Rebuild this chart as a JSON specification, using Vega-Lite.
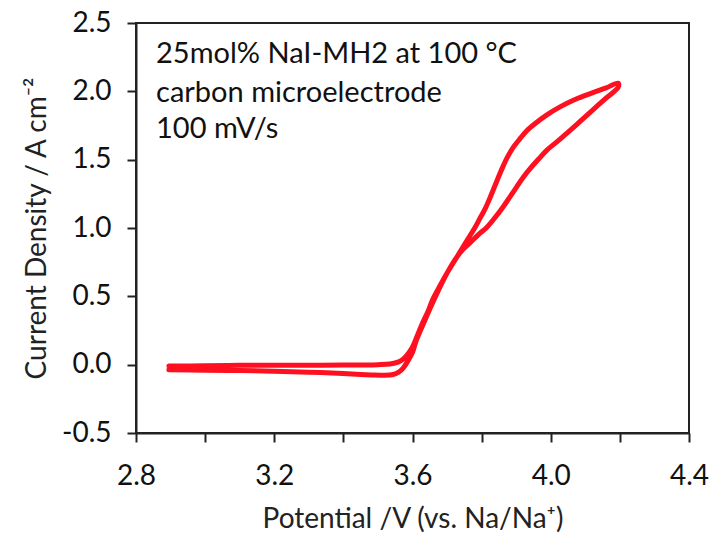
{
  "$schema": "https://vega.github.io/schema/vega-lite/v6.json",
  "width": 553,
  "height": 410,
  "autosize": {"type": "none"},
  "padding": {"left": 136, "top": 23, "right": 22, "bottom": 102},
  "background": "white",
  "config": {
    "font": "Lato",
    "view": {"stroke": "#222", "strokeWidth": 2},
    "axis": {
      "domainColor": "#222", "domainWidth": 2, "tickColor": "#222", "tickWidth": 2, "tickSize": 9,
      "labelFont": "Lato", "labelFontSize": 28, "labelColor": "#111", "labelPadding": 16,
      "titleFont": "Lato", "titleFontSize": 28, "titleFontWeight": "normal", "titleColor": "#222",
      "grid": false, "labelFlush": false, "labelOverlap": false
    }
  },
  "datasets": {
    "cv": [
      {"i": 1, "v": 2.895, "j": -0.01},
      {"i": 2, "v": 3.0, "j": -0.008},
      {"i": 3, "v": 3.1, "j": -0.005},
      {"i": 4, "v": 3.2, "j": -0.005},
      {"i": 5, "v": 3.3, "j": -0.004},
      {"i": 6, "v": 3.4, "j": -0.003},
      {"i": 7, "v": 3.45, "j": -0.002},
      {"i": 8, "v": 3.5, "j": 0.0},
      {"i": 9, "v": 3.535, "j": 0.005},
      {"i": 10, "v": 3.56, "j": 0.02},
      {"i": 11, "v": 3.573, "j": 0.04},
      {"i": 12, "v": 3.59, "j": 0.09},
      {"i": 13, "v": 3.602, "j": 0.14},
      {"i": 14, "v": 3.615, "j": 0.22},
      {"i": 15, "v": 3.63, "j": 0.31},
      {"i": 16, "v": 3.645, "j": 0.39},
      {"i": 17, "v": 3.659, "j": 0.48},
      {"i": 18, "v": 3.68, "j": 0.58},
      {"i": 19, "v": 3.7, "j": 0.67},
      {"i": 20, "v": 3.729, "j": 0.79},
      {"i": 21, "v": 3.758, "j": 0.91},
      {"i": 22, "v": 3.78, "j": 1.0},
      {"i": 23, "v": 3.795, "j": 1.07},
      {"i": 24, "v": 3.81, "j": 1.14},
      {"i": 25, "v": 3.824, "j": 1.22},
      {"i": 26, "v": 3.845, "j": 1.35},
      {"i": 27, "v": 3.86, "j": 1.44},
      {"i": 28, "v": 3.875, "j": 1.52},
      {"i": 29, "v": 3.89, "j": 1.585},
      {"i": 30, "v": 3.91, "j": 1.65},
      {"i": 31, "v": 3.93, "j": 1.71},
      {"i": 32, "v": 3.955, "j": 1.765},
      {"i": 33, "v": 3.99, "j": 1.83},
      {"i": 34, "v": 4.027, "j": 1.886},
      {"i": 35, "v": 4.07, "j": 1.94},
      {"i": 36, "v": 4.122, "j": 1.99},
      {"i": 37, "v": 4.16, "j": 2.025},
      {"i": 38, "v": 4.195, "j": 2.06},
      {"i": 39, "v": 4.195, "j": 2.03},
      {"i": 40, "v": 4.16, "j": 1.95},
      {"i": 41, "v": 4.122, "j": 1.865},
      {"i": 42, "v": 4.085, "j": 1.78},
      {"i": 43, "v": 4.047, "j": 1.695},
      {"i": 44, "v": 4.02, "j": 1.635},
      {"i": 45, "v": 3.989, "j": 1.57},
      {"i": 46, "v": 3.965, "j": 1.505},
      {"i": 47, "v": 3.942, "j": 1.44},
      {"i": 48, "v": 3.92, "j": 1.37},
      {"i": 49, "v": 3.9, "j": 1.295},
      {"i": 50, "v": 3.88, "j": 1.22},
      {"i": 51, "v": 3.862, "j": 1.154},
      {"i": 52, "v": 3.84, "j": 1.08},
      {"i": 53, "v": 3.816, "j": 1.008},
      {"i": 54, "v": 3.79, "j": 0.95},
      {"i": 55, "v": 3.766, "j": 0.89},
      {"i": 56, "v": 3.745, "j": 0.84},
      {"i": 57, "v": 3.729, "j": 0.79},
      {"i": 58, "v": 3.7, "j": 0.67},
      {"i": 59, "v": 3.665, "j": 0.49},
      {"i": 60, "v": 3.635, "j": 0.32},
      {"i": 61, "v": 3.61, "j": 0.17},
      {"i": 62, "v": 3.6, "j": 0.09},
      {"i": 63, "v": 3.585, "j": 0.02},
      {"i": 64, "v": 3.573, "j": -0.025},
      {"i": 65, "v": 3.56, "j": -0.055},
      {"i": 66, "v": 3.544, "j": -0.072},
      {"i": 67, "v": 3.52, "j": -0.078},
      {"i": 68, "v": 3.48, "j": -0.075},
      {"i": 69, "v": 3.45, "j": -0.072},
      {"i": 70, "v": 3.4, "j": -0.065},
      {"i": 71, "v": 3.3, "j": -0.055},
      {"i": 72, "v": 3.2, "j": -0.048},
      {"i": 73, "v": 3.1, "j": -0.043},
      {"i": 74, "v": 3.0, "j": -0.04},
      {"i": 75, "v": 2.895, "j": -0.038}
    ],
    "notes": [
      {"v": 2.858, "j": 2.207, "t": "25mol% NaI-MH2 at 100 °C"},
      {"v": 2.858, "j": 1.922, "t": "carbon microelectrode"},
      {"v": 2.858, "j": 1.659, "t": "100 mV/s"}
    ]
  },
  "layer": [
    {
      "data": {"name": "cv"},
      "mark": {"type": "line", "color": "#fe1020", "strokeWidth": 5, "strokeCap": "round", "strokeJoin": "round", "interpolate": "catmull-rom", "clip": true},
      "encoding": {
        "x": {
          "field": "v", "type": "quantitative",
          "scale": {"domain": [2.8, 4.4], "nice": false, "zero": false},
          "axis": {
            "title": "Potential /V (vs. Na/Na⁺)",
            "values": [2.8, 3.0, 3.2, 3.4, 3.6, 3.8, 4.0, 4.2, 4.4],
            "labelExpr": "abs(datum.value*2.5 - round(datum.value*2.5)) < 0.01 ? format(datum.value, '.1f') : ''",
            "labelPadding": 20,
            "titlePadding": 15
          }
        },
        "y": {
          "field": "j", "type": "quantitative",
          "scale": {"domain": [-0.5, 2.5], "nice": false, "zero": false},
          "axis": {
            "title": "Current Density / A cm⁻²",
            "values": [-0.5, -0.25, 0, 0.25, 0.5, 0.75, 1.0, 1.25, 1.5, 1.75, 2.0, 2.25, 2.5],
            "labelExpr": "abs(datum.value*2 - round(datum.value*2)) < 0.01 ? replace(format(datum.value, '.1f'), '−', '-') : ''",
            "titlePadding": 10
          }
        },
        "order": {"field": "i", "type": "quantitative"}
      }
    },
    {
      "data": {"name": "notes"},
      "mark": {"type": "text", "align": "left", "baseline": "alphabetic", "font": "Lato", "fontSize": 29, "color": "#111"},
      "encoding": {
        "x": {"field": "v", "type": "quantitative"},
        "y": {"field": "j", "type": "quantitative"},
        "text": {"field": "t"}
      }
    }
  ]
}
